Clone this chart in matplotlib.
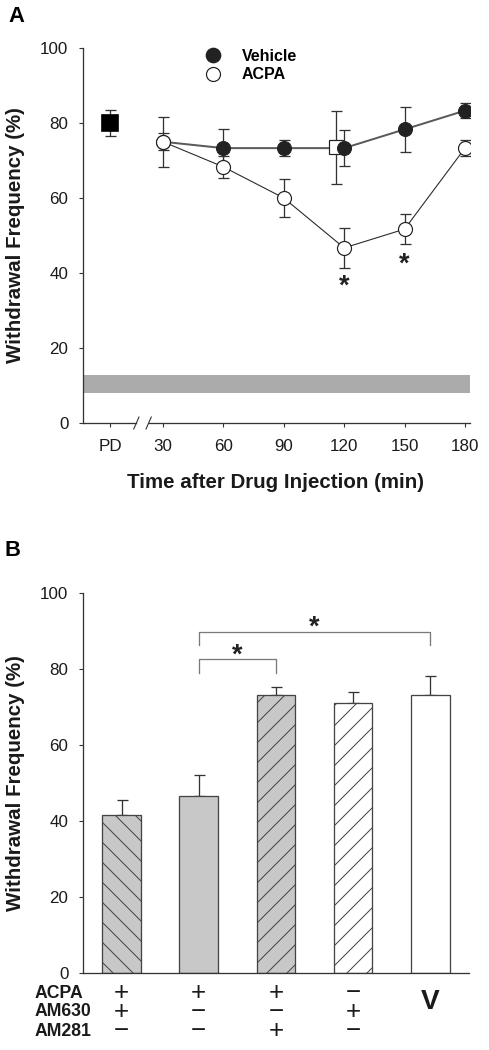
import matplotlib
matplotlib.use("Agg")
import matplotlib.pyplot as plt
from matplotlib.transforms import blended_transform_factory
from matplotlib.lines import Line2D

# ---------------- data: panel A ----------------
time_labels = ["PD", "30", "60", "90", "120", "150", "180"]
pd_position = 3.9
time_points = [30, 60, 90, 120, 150, 180]
vehicle_mean = [75.0, 73.3, 73.3, 73.3, 78.3, 83.3]
vehicle_sem = [6.7, 5.0, 2.1, 4.9, 6.0, 2.1]
acpa_mean = [75.0, 68.3, 60.0, 46.7, 51.7, 73.3]
acpa_sem = [2.2, 3.0, 5.1, 5.4, 4.0, 2.1]
pd_mean = [80.0]
pd_sem = [3.4]
square_time = [116]
square_mean = [73.5]
square_sem = [9.8]
sig_times = [120, 150]
sig_level = [36.4, 42.3]
band_low, band_high = 8.1, 12.8
break_at = [16.8, 22.9]

# ---------------- data: panel B ----------------
bar_pos = [1, 2, 3, 4, 5]
bar_values = [41.7, 46.7, 73.2, 71.1, 73.2]
bar_sem = [4.0, 5.5, 2.1, 3.0, 5.0]
bar_colors = ["#c8c8c8", "#c8c8c8", "#c8c8c8", "white", "white"]
bar_hatches = ["\\\\", "", "//", "//", ""]
row_names = ["ACPA", "AM630", "AM281"]
row_acpa = ["+", "+", "+", "\u2212", ""]
row_am630 = ["+", "\u2212", "\u2212", "+", ""]
row_am281 = ["\u2212", "\u2212", "+", "\u2212", ""]
vehicle_mark = "V"
comparisons = [(2, 3), (2, 5)]
bracket_level = [82.6, 89.9]

# ---------------- style ----------------
DPI = 120
W, H = 490, 1050


def pt(p):
    return p * 72.0 / DPI


def fx(p):
    return p / W


def fy(p):
    return 1 - p / H


plt.rcParams["font.family"] = ["Liberation Sans", "DejaVu Sans"]
plt.rcParams["hatch.linewidth"] = pt(1.0)
plt.rcParams["hatch.color"] = "#2a2a2a"

fig = plt.figure(figsize=(W / DPI, H / DPI), dpi=DPI)

DARK = "#222222"
AXC = "#333333"
tick_fs = pt(17)
lab_fs = pt(20.5)

# ================= panel A =================
axA = fig.add_axes([fx(83), fy(423), fx(470 - 83), 375 / H])
axA.set_xlim(-9.7, 182.5)
axA.set_ylim(0, 100)
for s in ["top", "right", "bottom"]:
    axA.spines[s].set_visible(False)
axA.spines["left"].set_color(AXC)
axA.spines["left"].set_linewidth(pt(1.3))

axA.axhspan(band_low, band_high, color="#ababab", lw=0, zorder=1)

# broken x axis line
xl = axA.get_xlim()
axA.plot([xl[0], break_at[0]], [0, 0], color=AXC, lw=pt(1.3), clip_on=False, zorder=3)
axA.plot([break_at[1], xl[1]], [0, 0], color=AXC, lw=pt(1.3), clip_on=False, zorder=3)
for b in break_at:
    axA.plot([b - 1.3, b + 1.3], [-1.6, 1.6], color=AXC, lw=pt(1.1), clip_on=False, zorder=3)

err_kw = dict(ecolor=AXC, elinewidth=pt(1.3), capsize=pt(5.5), capthick=pt(1.3))

# vehicle
axA.plot(time_points, vehicle_mean, "-", color="#5a5a5a", lw=pt(2.0), zorder=2)
axA.errorbar(time_points, vehicle_mean, yerr=vehicle_sem, fmt="none", zorder=2.2, **err_kw)
# open square
axA.errorbar(square_time, square_mean, yerr=square_sem, fmt="none", zorder=3, **err_kw)
axA.plot(square_time, square_mean, "s", ms=pt(13.5), mfc="white", mec=DARK, mew=pt(1.2), zorder=3.1)
axA.plot(time_points, vehicle_mean, "o", ms=pt(14), mfc=DARK, mec=DARK, mew=pt(1), zorder=4)
# ACPA
axA.plot(time_points, acpa_mean, "-", color="#2a2a2a", lw=pt(1.1), zorder=2.5)
axA.errorbar(time_points, acpa_mean, yerr=acpa_sem, fmt="none", zorder=2.6, **err_kw)
axA.plot(time_points, acpa_mean, "o", ms=pt(14), mfc="white", mec=DARK, mew=pt(1.2), zorder=5)
# PD
axA.errorbar([pd_position], pd_mean, yerr=pd_sem, fmt="none", zorder=3, **err_kw)
axA.plot([pd_position], pd_mean, "s", ms=pt(16.5), mfc="black", mec="black", zorder=4)

for t, lvl in zip(sig_times, sig_level):
    axA.text(t, lvl, "*", ha="center", va="center", fontsize=pt(27), fontweight="bold", color=DARK)

axA.set_xticks([pd_position] + time_points)
axA.set_xticklabels(time_labels)
axA.set_yticks([0, 20, 40, 60, 80, 100])
axA.tick_params(axis="both", direction="out", length=pt(4), width=pt(1.1), color=AXC,
                labelsize=tick_fs, labelcolor="#1a1a1a")
axA.tick_params(axis="y", pad=pt(10.5))
axA.tick_params(axis="x", pad=pt(12))

handles = [
    Line2D([], [], ls="none", marker="o", ms=pt(14), mfc=DARK, mec=DARK),
    Line2D([], [], ls="none", marker="o", ms=pt(14), mfc="white", mec=DARK, mew=pt(1.2)),
]
leg = axA.legend(handles, ["Vehicle", "ACPA"], loc="center left",
                 bbox_to_anchor=(fx(205), fy(65.5)), bbox_transform=fig.transFigure,
                 frameon=False, borderpad=0, borderaxespad=0, handlelength=1.0,
                 handletextpad=1.3, labelspacing=0.2,
                 prop=dict(size=pt(16), weight="bold"))

fig.text(fx(8), fy(16), "A", fontsize=pt(22), fontweight="bold", ha="left", va="center")
fig.text(fx(16), fy(235.5), "Withdrawal Frequency (%)", rotation=90, ha="center", va="center",
         fontsize=lab_fs, fontweight="bold", color="#1a1a1a")
fig.text(fx(276), fy(483), "Time after Drug Injection (min)", ha="center", va="center",
         fontsize=lab_fs, fontweight="bold", color="#1a1a1a")

# ================= panel B =================
axB = fig.add_axes([fx(83), fy(973.3), fx(469 - 83), 380 / H])
axB.set_xlim(0.5, 5.5)
axB.set_ylim(0, 100)
for s in ["top", "right"]:
    axB.spines[s].set_visible(False)
for s in ["left", "bottom"]:
    axB.spines[s].set_color(AXC)
    axB.spines[s].set_linewidth(pt(1.3))

axB.bar(bar_pos, bar_values, width=0.5, color=bar_colors, edgecolor="#444444",
        linewidth=pt(1.3), zorder=2)
for p, h in zip(axB.patches, bar_hatches):
    if h:
        p.set_hatch(h)
axB.errorbar(bar_pos, bar_values, yerr=[[0] * len(bar_sem), bar_sem], fmt="none",
             zorder=1.5, **err_kw)

for (a, b), lvl in zip(comparisons, bracket_level):
    axB.plot([a, a, b, b], [lvl - 3.5, lvl, lvl, lvl - 3.5], color="#7a7a7a", lw=pt(1.3), zorder=3)
    axB.text((a + b) / 2, lvl + 1.1, "*", ha="center", va="center", fontsize=pt(27),
             fontweight="bold", color=DARK)

axB.set_xticks([])
axB.set_yticks([0, 20, 40, 60, 80, 100])
axB.tick_params(axis="y", direction="out", length=pt(4), width=pt(1.1), color=AXC,
                labelsize=tick_fs, labelcolor="#1a1a1a", pad=pt(10.5))

fig.text(fx(5), fy(551), "B", fontsize=pt(22), fontweight="bold", ha="left", va="center")
fig.text(fx(16), fy(783), "Withdrawal Frequency (%)", rotation=90, ha="center", va="center",
         fontsize=lab_fs, fontweight="bold", color="#1a1a1a")

# table of treatments
row_y = [993, 1012, 1031]
trans = blended_transform_factory(axB.transData, fig.transFigure)
for name, ry, row in zip(row_names, row_y, [row_acpa, row_am630, row_am281]):
    fig.text(fx(35), fy(ry), name, ha="left", va="center", fontsize=pt(17.6),
             fontweight="bold", color="#1a1a1a")
    for xp, sym in zip(bar_pos, row):
        if sym:
            axB.text(xp, fy(ry), sym, transform=trans, ha="center", va="center",
                     fontsize=pt(26), color="#1a1a1a", clip_on=False)
axB.text(bar_pos[-1], fy(1002), vehicle_mark, transform=trans, ha="center", va="center",
         fontsize=pt(28), fontweight="bold", color="#1a1a1a", clip_on=False)

fig.savefig("out.png", dpi=DPI)
